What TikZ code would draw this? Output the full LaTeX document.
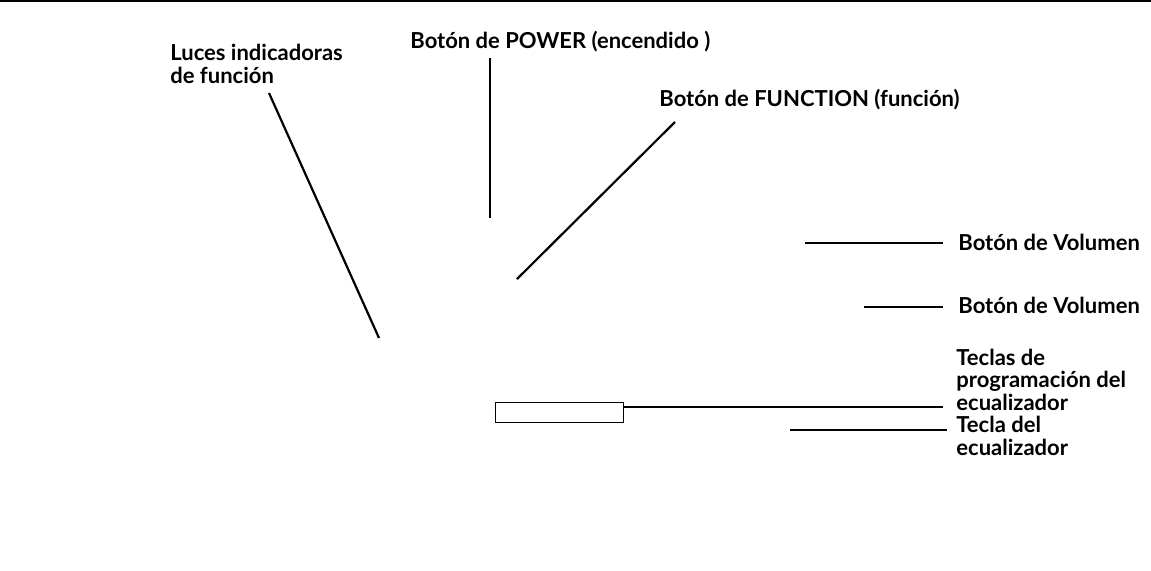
\documentclass[tikz,border=0pt]{standalone}
\usepackage{fontspec}
\setmainfont{Lato}
\usetikzlibrary{positioning}

\begin{document}
\begin{tikzpicture}[x=0.5pt,y=-0.5pt,
    lbl/.style={font=\bfseries\fontsize{11}{11.25}\selectfont,anchor=base west,inner sep=0pt,align=left},
    leader/.style={line width=1.1pt}]
\useasboundingbox (0,0) rectangle (1151,570);
\draw[line width=1.2pt] (0,1) -- (1151,1);

% labels (base = last line)
\node[lbl] (luces) at (170,83) {Luces indicadoras\\de función};
\node[lbl] (power) at (410,48) {Botón de POWER (encendido )};
\node[lbl] (function) at (659,106) {Botón de FUNCTION (función)};
\node[lbl] (vol1) at (958,250) {Botón de Volumen};
\node[lbl] (vol2) at (958,313) {Botón de Volumen};
\node[lbl] (prog) at (956,410) {Teclas de\\programación del\\ecualizador};
\node[lbl] (eq) at (956,455) {Tecla del\\ecualizador};

% equalizer keys
\node[draw,line width=0.5pt,minimum width=64pt,minimum height=10pt,inner sep=0pt] (progKeys) at (559,412) {};

% leader ends
\coordinate (lucesA) at (269,93);
\coordinate (lucesB) at (379,338);
\coordinate (powerA) at (490,58);
\coordinate (powerB) at (490,218);
\coordinate (functionA) at (675,122);
\coordinate (functionB) at (517,279);
\coordinate (vol1A) at (943,243);
\coordinate (vol1B) at (805,243);
\coordinate (vol2A) at (943,307);
\coordinate (vol2B) at (864,307);
\coordinate (progA) at (943,407);
\coordinate (eqA) at (947,430);
\coordinate (eqB) at (790,430);

\draw[leader] (lucesA) -- (lucesB);
\draw[leader] (powerA) -- (powerB);
\draw[leader] (functionA) -- (functionB);
\draw[leader] (vol1A) -- (vol1B);
\draw[leader] (vol2A) -- (vol2B);
\draw[leader] (progA) -- (progKeys.east |- progA);
\draw[leader] (eqA) -- (eqB);
\end{tikzpicture}
\end{document}
